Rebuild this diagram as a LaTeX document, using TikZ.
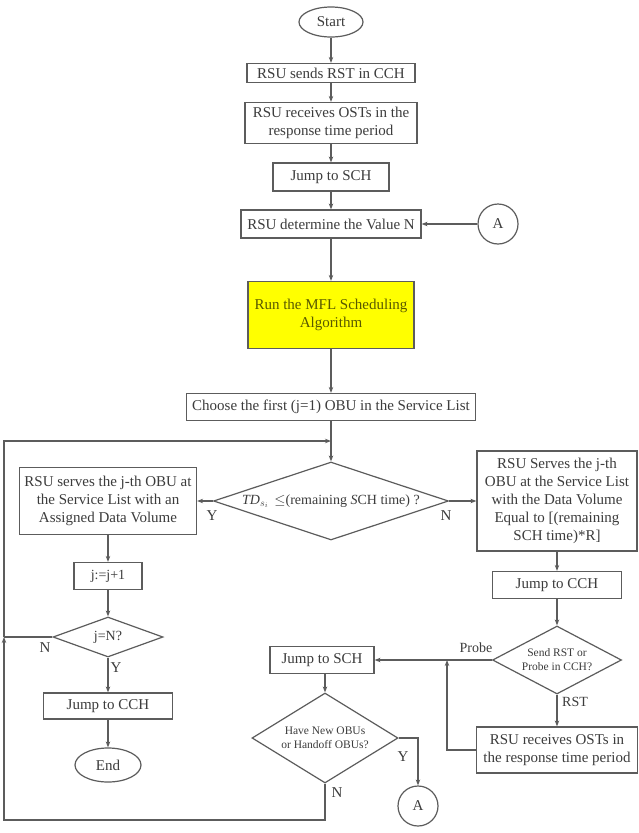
\documentclass[tikz,border=0pt]{standalone}
\usepackage{fontspec}
\setmainfont{Liberation Serif}
\usetikzlibrary{shapes.geometric,arrows.meta}
\definecolor{ln}{HTML}{5C5C5C}
\definecolor{txt}{HTML}{3C3C3C}
\definecolor{yel}{HTML}{FFFF00}
\definecolor{ytxt}{HTML}{595900}
\begin{document}
\begin{tikzpicture}[x=1pt,y=-1pt,
  every node/.style={text=txt, font=\fontsize{15}{18}\selectfont},
  box/.style={draw=ln, line width=1.2pt, rectangle, inner sep=0pt, align=center},
  oval/.style={draw=ln, line width=1.2pt, ellipse, inner sep=0pt},
  circ/.style={draw=ln, line width=1.2pt, circle, inner sep=0pt, minimum size=40pt},
  dia/.style={draw=ln, line width=1.2pt, diamond, inner sep=0pt},
  lbl/.style={font=\fontsize{15}{18}\selectfont, inner sep=0pt},
  small/.style={font=\fontsize{11.5}{14}\selectfont, align=center, inner sep=0pt},
  arr/.style={draw=ln, line width=1.2pt, -{Stealth[length=6pt,width=4.5pt]}},
  ln/.style={draw=ln, line width=1.2pt}
]
\useasboundingbox (0,0) rectangle (639,833);
\fill[white] (0,0) rectangle (639,833);

% main column
\node[oval, minimum width=64pt, minimum height=30pt] (start) at (331,22) {Start};
\node[box, minimum width=168pt, minimum height=19pt] (b1) at (331,73) {RSU sends RST in CCH};
\node[box, minimum width=172pt, minimum height=41pt] (b2) at (331,123) {RSU receives OSTs in the\\response time period};
\node[box, minimum width=116pt, minimum height=28pt] (b3) at (331,177) {Jump to SCH};
\node[box, minimum width=180pt, minimum height=28pt] (b4) at (331,224) {RSU determine the Value N};
\node[circ] (A1) at (498,224) {A};
\node[box, fill=yel, minimum width=166pt, minimum height=67pt, text=ytxt] (run) at (331,315) {Run the MFL Scheduling\\Algorithm};
\node[box, minimum width=289pt, minimum height=27pt] (choose) at (331,407) {Choose the first (j=1) OBU in the Service List};

% main decision
\node[dia, minimum width=235pt, minimum height=78pt] (d1) at (331,501) {};
\node[inner sep=0pt, font=\fontsize{14}{16}\selectfont] (d1t) at (d1.center) {\textit{TD}$_{s_i}$\ \,$\leq$(remaining \textit{S}CH time) ?};

% left column
\node[box, minimum width=177pt, minimum height=67pt] (L1) at (108,501) {RSU serves the j-th OBU at\\the Service List with an\\Assigned Data Volume};
\node[box, minimum width=68pt, minimum height=27pt, font=\fontsize{14}{16}\selectfont] (j1) at (108,576) {j:=j+1};
\node[dia, minimum width=110pt, minimum height=40pt] (d2) at (108,637) {};
\node[inner sep=0pt, font=\fontsize{14}{16}\selectfont] (d2t) at (d2.center) {j=N?};
\node[box, minimum width=129pt, minimum height=26pt] (cchL) at (108,706) {Jump to CCH};
\node[oval, minimum width=66pt, minimum height=34pt] (end) at (108,765) {End};

% right column
\node[box, minimum width=160pt, minimum height=100pt] (R1) at (557,501) {RSU Serves the j-th\\OBU at the Service List\\with the Data Volume\\Equal to [(remaining\\SCH time)*R]};
\node[box, minimum width=129pt, minimum height=27pt] (cchR) at (557,585) {Jump to CCH};
\node[dia, minimum width=129pt, minimum height=68pt] (d3) at (557,660) {};
\node[small] (d3t) at (d3.center) {Send RST or\\Probe in CCH?};
\node[box, minimum width=161pt, minimum height=46pt] (R2) at (557,750) {RSU receives OSTs in\\the response time period};

% bottom middle
\node[box, minimum width=104pt, minimum height=27pt] (sch2) at (322,660) {Jump to SCH};
\node[dia, minimum width=146pt, minimum height=90pt] (d4) at (325,738) {};
\node[small] (d4t) at (d4.center) {Have New OBUs\\or Handoff OBUs?};
\node[circ] (A2) at (418,806) {A};

% loop coordinates
\coordinate (cLbot) at (4,820);
\coordinate (cLtop) at (4,441);
\coordinate (cMid) at (cLtop |- d2.west);
\coordinate (cJoin) at (d1.north |- cLtop);
\coordinate (cP) at (447,660);

% connectors main column
\draw[arr] (start) -- (b1);
\draw[arr] (b1) -- (b2);
\draw[arr] (b2) -- (b3);
\draw[arr] (b3) -- (b4);
\draw[arr] (A1.west) -- (A1.west -| b4.east);
\draw[arr] (b4) -- (run);
\draw[arr] (run) -- (choose);
\draw[arr] (choose.south -| d1.north) -- (d1.north);
\draw[arr] (d1.west) -- (d1.west -| L1.east);
\draw[arr] (d1.east) -- (d1.east -| R1.west);

% left column
\draw[arr] (L1) -- (j1);
\draw[arr] (j1) -- (d2.north);
\draw[arr] (d2.south) -- (cchL);
\draw[arr] (cchL) -- (end);
\draw[ln] (d2.west) -- (cMid);

% right column
\draw[arr] (R1) -- (cchR);
\draw[arr] (cchR) -- (d3.north);
\draw[arr] (d3.south) -- (R2);
\draw[arr] (d3.west) -- (d3.west -| sch2.east);
\draw[arr] (R2.west) -| (cP);

% bottom middle
\draw[arr] (d4.north |- sch2.south) -- (d4.north);
\draw[arr] (d4.east) -| (A2.north);
\draw[arr] (d4.south) |- (cLbot) -- (cMid);
\draw[arr] (cMid) -- (cLtop) -- (cJoin);

% labels
\node[lbl] at (212,516) {Y};
\node[lbl] at (446,516) {N};
\node[lbl] at (45,648) {N};
\node[lbl] at (116,668) {Y};
\node[lbl, font=\fontsize{14}{16}\selectfont] at (476,648) {Probe};
\node[lbl, font=\fontsize{14}{16}\selectfont] at (575,702) {RST};
\node[lbl] at (403,757) {Y};
\node[lbl] at (337,793) {N};
\end{tikzpicture}
\end{document}
